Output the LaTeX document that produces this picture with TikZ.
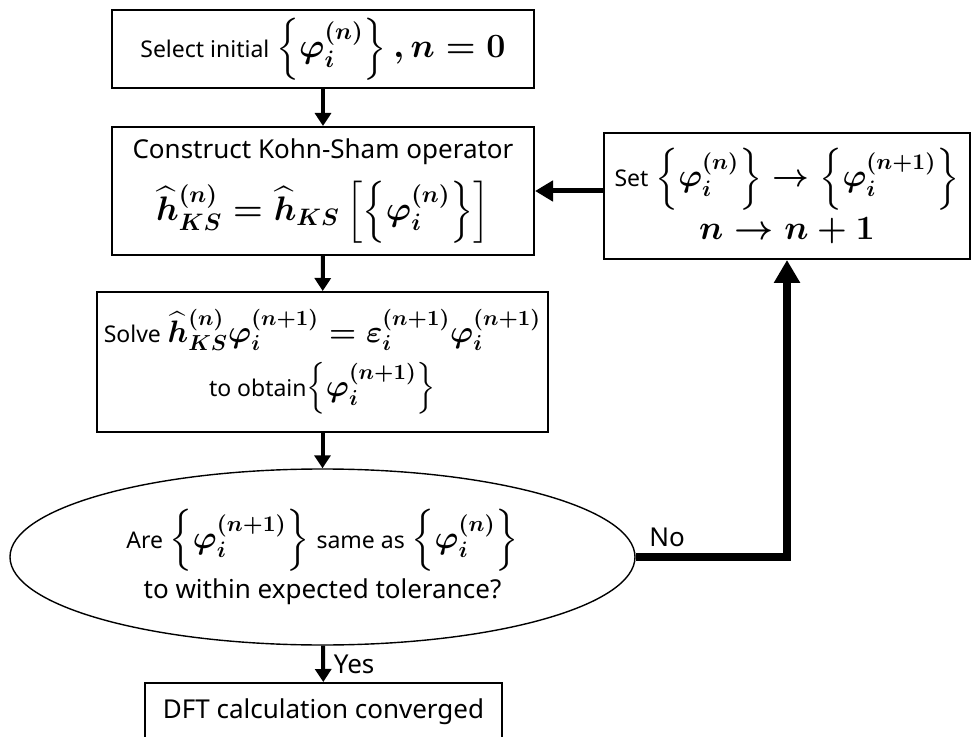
\documentclass[tikz,border=0pt]{standalone}
\usepackage{fix-cm}
\usepackage{amsmath}
\usepackage{fontspec}
\setmainfont{Noto Sans}
\usetikzlibrary{shapes,shapes.geometric,arrows.meta}
\newcommand{\bmath}[2][17]{{\fontsize{#1}{#1}\selectfont\boldmath$#2$}}
\newcommand{\lbl}{\fontsize{11.5}{14}\selectfont}

\begin{document}
\begin{tikzpicture}[x=0.5pt,y=-0.5pt,
  >={Triangle[width=8pt,length=6.5pt]},
  every node/.append style={font=\fontsize{13}{16}\selectfont}]
  \tikzstyle{box} = [draw,rectangle,line width=1pt,align=center,inner sep=0pt]
  \tikzstyle{flow} = [->,line width=2pt]
  \tikzstyle{feedback} = [line width=4pt,-{Triangle[width=12.5pt,length=11.5pt]}]
  \useasboundingbox (0,0) rectangle (974,737);
  \clip (0,0) rectangle (974,737);
  \node (select) [box,minimum width=211pt,minimum height=39pt] at (323,49)
    {{\lbl Select initial} \bmath{\left\{\varphi_i^{(n)}\right\},n=0}};
  \node (construct) [box,minimum width=211pt,minimum height=64pt] at (323,191)
    {Construct Kohn-Sham operator\\[7pt]
     \bmath{{\widehat{h}}_{KS}^{(n)}=\widehat{h}_{KS}\left[\left\{\varphi_i^{(n)}\right\}\right]}};
  \node (update) [box,minimum width=183pt,minimum height=63pt] at (787,196)
    {{\lbl Set} \bmath[16]{\left\{\varphi_i^{(n)}\right\}\rightarrow\left\{\varphi_i^{(n+1)}\right\}}\\[3pt]
     \bmath{n\rightarrow n+1}};
  \node (solve) [box,minimum width=225.5pt,minimum height=70pt] at (322.5,362)
    {{\lbl Solve} \bmath[15.5]{{\widehat{h}}_{KS}^{(n)}\varphi_i^{(n+1)}=\varepsilon_i^{(n+1)}\varphi_i^{(n+1)}}\\[5pt]
     {\lbl to obtain}\bmath[15.5]{\left\{\varphi_i^{(n+1)}\right\}}};
  \node (check) [draw,ellipse,line width=0.7pt,align=center,inner sep=0pt,
    minimum width=312.5pt,minimum height=88pt] at (322.5,557)
    {{\lbl Are} \bmath[16]{\left\{\varphi_i^{(n+1)}\right\}} {\lbl same as} \bmath[16]{\left\{\varphi_i^{(n)}\right\}}\\[3pt]
     to within expected tolerance?};
  \node (done) [box,minimum width=178.5pt,minimum height=29pt] at (323.5,712)
    {DFT calculation converged};
  % main sequence
  \draw[flow] (select) -- (construct);
  \draw[flow] (construct) -- (solve);
  \draw[flow] (solve) -- (check);
  \draw[flow] (check) -- node[right=1pt] {Yes} (done);
  % iteration loop
  \draw[feedback] (check.east) -| node[pos=0.01,anchor=south west] {No} (update.south);
  \draw[line width=2.5pt,-{Triangle[width=10pt,length=9pt]}] (construct.east -| update.west) -- (construct.east);
\end{tikzpicture}
\end{document}
